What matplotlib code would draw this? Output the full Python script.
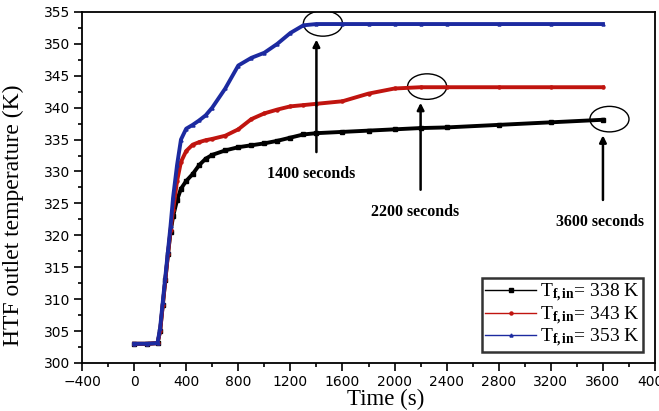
import matplotlib
matplotlib.use("Agg")
import matplotlib.pyplot as plt
from matplotlib.patches import Ellipse
import numpy as np

plt.rcParams["mathtext.fontset"] = "custom"
plt.rcParams["mathtext.rm"] = "Liberation Serif"
plt.rcParams["mathtext.it"] = "Liberation Serif:italic"
plt.rcParams["mathtext.bf"] = "Liberation Serif:bold"

# ---- data ----
time_s = [0, 100, 180, 200, 220, 240, 260, 280, 300, 330, 360, 400, 450, 500, 550, 600,
          700, 800, 900, 1000, 1100, 1200, 1300, 1400, 1600, 1800, 2000, 2200, 2400,
          2800, 3200, 3600]
T_338 = [303, 303, 303.1, 305, 309, 313, 317, 320.5, 323, 325.5, 327.3, 328.5, 329.6, 331,
         332, 332.6, 333.3, 333.8, 334.1, 334.4, 334.8, 335.3, 335.8, 336.0, 336.2, 336.4,
         336.6, 336.8, 336.9, 337.3, 337.7, 338.1]
T_343 = [303, 303, 303.1, 305, 309, 313, 317, 320.8, 324, 328.5, 331.5, 333.2, 334.2, 334.6,
         334.9, 335.1, 335.6, 336.6, 338.2, 339.1, 339.7, 340.2, 340.4, 340.6, 341.0, 342.2,
         343.0, 343.2, 343.2, 343.2, 343.2, 343.2]
T_353 = [303, 303, 303.1, 305.5, 309.5, 313.5, 317.5, 321.5, 326, 331, 335, 336.7, 337.3, 338,
         338.8, 340, 343, 346.6, 347.8, 348.6, 350, 351.7, 352.9, 353.1, 353.1, 353.1,
         353.1, 353.1, 353.1, 353.1, 353.1, 353.1]
labels = [r"$\mathrm{T}_{\mathbf{f,in}}$= 338 K",
          r"$\mathrm{T}_{\mathbf{f,in}}$= 343 K",
          r"$\mathrm{T}_{\mathbf{f,in}}$= 353 K"]
ann_times = [1400, 2200, 3600]
ann_labels = ["1400 seconds", "2200 seconds", "3600 seconds"]

colors = ["#000000", "#c0140f", "#1c2aa0"]
markers = ["s", "o", "^"]

fig = plt.figure(figsize=(6.59, 4.11), dpi=100)
ax = fig.add_axes([0.1244, 0.117, 0.8696, 0.854])

series = [T_338, T_343, T_353]
for vals, c, m, lab in zip(series, colors, markers, labels):
    ax.plot(time_s, vals, color=c, lw=2.8, marker=m, ms=2.2, mec=c, mfc=c, label=lab)

ax.set_xlim(-400, 4000)
ax.set_ylim(300, 355)
ax.set_xticks(np.arange(-400, 4001, 400))
ax.set_xticks(np.arange(-400, 4001, 200), minor=True)
ax.set_yticks(np.arange(300, 356, 5))
ax.set_yticks(np.arange(300, 356, 2.5), minor=True)
ax.tick_params(which="both", direction="out", top=False, right=False,
               labelsize=10, width=1.2, pad=2.5)
ax.tick_params(which="major", length=6)
ax.tick_params(which="minor", length=3)
for lbl in ax.get_xticklabels() + ax.get_yticklabels():
    lbl.set_family("DejaVu Sans")
for sp in ax.spines.values():
    sp.set_linewidth(1.3)

ax.set_xlabel("Time (s)", family="Liberation Serif", fontsize=16.5)
ax.xaxis.set_label_coords(0.53, -0.073)
ax.set_ylabel("HTF outlet temperature (K)", family="Liberation Serif", fontsize=17)
ax.yaxis.set_label_coords(-0.102, 0.42)

# annotations: ellipses and arrows
ann_series = [T_353, T_343, T_338]
text_offsets = [(-40, -23.5), (-40, -19.5), (-20, -16.0)]
for t, txt, s, (dx, dy) in zip(ann_times, ann_labels, ann_series, text_offsets):
    yv = s[time_s.index(t)]
    ax.add_patch(Ellipse((t + 50, yv + 0.1), 300, 4.0, fill=False, ec="black", lw=1.0))
    ax.annotate("", xy=(t, yv - 2.0), xytext=(t, yv + dy + 3.0),
                arrowprops=dict(arrowstyle="-|>", color="black", lw=1.8, mutation_scale=10))
    ax.text(t + dx, yv + dy, txt, family="Liberation Serif", fontweight="bold",
            fontsize=11.5, ha="center", va="center")

leg = ax.legend(loc="lower right", bbox_to_anchor=(0.985, 0.02), frameon=True, fancybox=False,
                edgecolor="black", prop={"family": "Liberation Serif", "size": 14},
                handlelength=2.6, handletextpad=0.2, borderpad=0.15, labelspacing=0.0,
                borderaxespad=0.2)
leg.get_frame().set_linewidth(1.8)
for h in leg.legend_handles:
    h.set_linewidth(1.0)

fig.savefig("out.png", dpi=100)
